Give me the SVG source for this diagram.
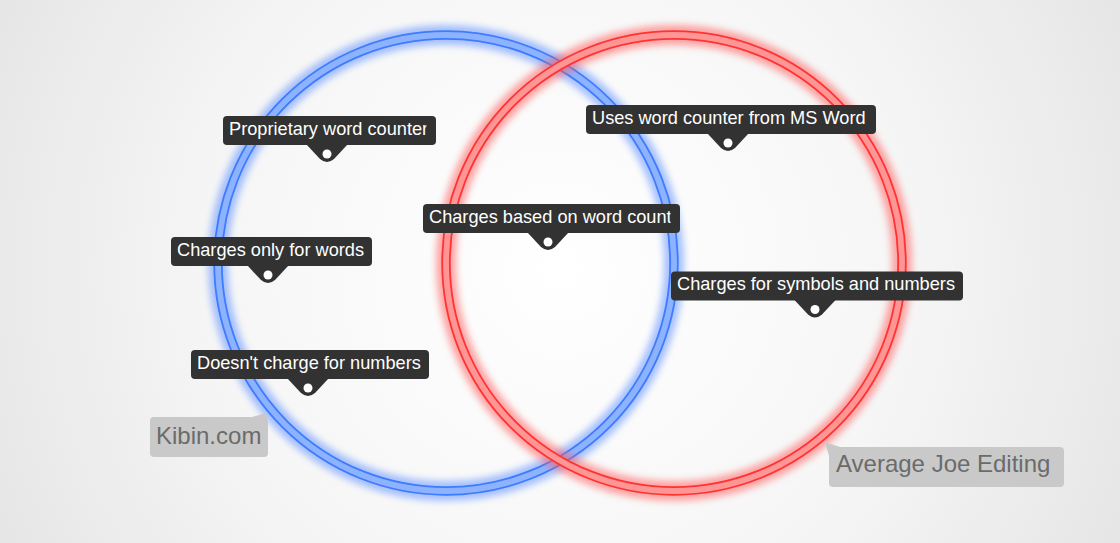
<svg xmlns="http://www.w3.org/2000/svg" xmlns:xlink="http://www.w3.org/1999/xlink" width="1120" height="543" viewBox="0 0 1120 543">
<style>
.lbl rect.bg{fill:#323232}
.lbl text{font-family:"Liberation Sans",Arial,sans-serif;font-size:18.2px;fill:#ffffff}
.tag path{fill:#c9c9c9}
.tag text{font-family:"Liberation Sans",Arial,sans-serif;font-size:24px;fill:#6b6b6b}
.ring{fill:none}
</style>
<defs>
<radialGradient id="bgGrad" cx="560" cy="270" r="620" gradientUnits="userSpaceOnUse">
<stop offset="0" stop-color="#ffffff"/>
<stop offset="0.55" stop-color="#f6f6f6"/>
<stop offset="1" stop-color="#e6e6e6"/>
</radialGradient>
<filter id="glow" x="-20%" y="-20%" width="140%" height="140%">
<feGaussianBlur stdDeviation="3.5"/>
</filter>
<g id="ptr">
<path d="M-21,-1 L21,-1 L7,14 Q0,20 -7,14 Z" fill="#323232"/>
<circle cx="0" cy="9" r="4.5" fill="#ffffff"/>
</g>
<clipPath id="c1"><rect x="223" y="116" width="203.5" height="29"/></clipPath>
<clipPath id="c3"><rect x="423" y="204" width="247.5" height="29"/></clipPath>
</defs>
<rect x="0" y="0" width="1120" height="543" fill="url(#bgGrad)"/>

<g id="circle-kibin" class="ring">
<circle cx="446" cy="263" r="228" stroke="#5d8fff" stroke-width="20" opacity="0.55" filter="url(#glow)"/>
<circle cx="446" cy="263" r="228" stroke="#8db3ff" stroke-width="8.5"/>
<circle cx="446" cy="263" r="231.8" stroke="#3f7bff" stroke-width="1.8"/>
<circle cx="446" cy="263" r="224.2" stroke="#3f7bff" stroke-width="1.8"/>
</g>
<g id="circle-averagejoe" class="ring">
<circle cx="674" cy="263" r="228" stroke="#ff5a5a" stroke-width="20" opacity="0.55" filter="url(#glow)"/>
<circle cx="674" cy="263" r="228" stroke="#ff9696" stroke-width="8.5"/>
<circle cx="674" cy="263" r="231.8" stroke="#ff3333" stroke-width="1.8"/>
<circle cx="674" cy="263" r="224.2" stroke="#ff3333" stroke-width="1.8"/>
</g>

<g id="connectors"></g>

<g id="label-proprietary" class="lbl">
<rect class="bg" x="223" y="116" width="213" height="29" rx="4"/>
<use xlink:href="#ptr" href="#ptr" x="327" y="145"/>
<text x="229" y="134.5" clip-path="url(#c1)">Proprietary word counter</text>
</g>
<g id="label-msword" class="lbl">
<rect class="bg" x="586" y="105" width="290" height="29" rx="4"/>
<use xlink:href="#ptr" href="#ptr" x="728" y="134"/>
<text x="592" y="123.5">Uses word counter from MS Word</text>
</g>
<g id="label-wordcount" class="lbl">
<rect class="bg" x="423" y="204" width="257" height="29" rx="4"/>
<use xlink:href="#ptr" href="#ptr" x="548" y="233"/>
<text x="429" y="222.5" clip-path="url(#c3)">Charges based on word count</text>
</g>
<g id="label-onlywords" class="lbl">
<rect class="bg" x="171" y="237" width="201" height="29" rx="4"/>
<use xlink:href="#ptr" href="#ptr" x="268" y="266"/>
<text x="177" y="255.5">Charges only for words</text>
</g>
<g id="label-symbols" class="lbl">
<rect class="bg" x="671" y="271.5" width="292" height="29" rx="4"/>
<use xlink:href="#ptr" href="#ptr" x="815" y="300.5"/>
<text x="677" y="290">Charges for symbols and numbers</text>
</g>
<g id="label-numbers" class="lbl">
<rect class="bg" x="191" y="350" width="238" height="29" rx="4"/>
<use xlink:href="#ptr" href="#ptr" x="308" y="379"/>
<text x="197" y="368.5">Doesn't charge for numbers</text>
</g>

<g id="tag-kibin" class="tag">
<path d="M154,417 L252,417 L266,413 L268,421 L268,453 Q268,457 264,457 L154,457 Q150,457 150,453 L150,421 Q150,417 154,417 Z"/>
<text x="156" y="443.5">Kibin.com</text>
</g>
<g id="tag-averagejoe" class="tag">
<path d="M825,442 L840,447 L1060,447 Q1064,447 1064,451 L1064,483 Q1064,487 1060,487 L833,487 Q829,487 829,483 L829,456 Z"/>
<text x="836" y="472">Average Joe Editing</text>
</g>
</svg>
